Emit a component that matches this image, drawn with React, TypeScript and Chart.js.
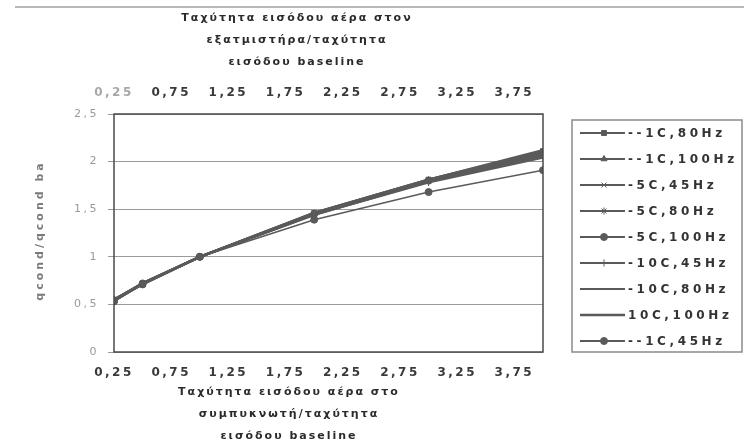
import React, { useEffect, useRef } from "react";
import { Chart, registerables } from "chart.js";
import { drawPoint } from "chart.js/helpers";

Chart.register(...registerables);

// ---- data ----
const xValues = [0.25, 0.5, 1, 2, 3, 4];
const xTickValues = [0.25, 0.75, 1.25, 1.75, 2.25, 2.75, 3.25, 3.75];

const seriesLabels = [
  "--1C,80Hz",
  "--1C,100Hz",
  "-5C,45Hz",
  "-5C,80Hz",
  "-5C,100Hz",
  "-10C,45Hz",
  "-10C,80Hz",
  "10C,100Hz",
  "--1C,45Hz",
];

const m1C80Hz = [0.55, 0.72, 1.0, 1.46, 1.81, 2.11];
const m1C100Hz = [0.54, 0.72, 1.0, 1.45, 1.8, 2.09];
const m5C45Hz = [0.55, 0.71, 1.0, 1.44, 1.79, 2.06];
const m5C80Hz = [0.55, 0.72, 1.0, 1.46, 1.81, 2.1];
const m5C100Hz = [0.54, 0.72, 1.0, 1.45, 1.8, 2.08];
const m10C45Hz = [0.55, 0.71, 1.0, 1.44, 1.78, 2.04];
const m10C80Hz = [0.55, 0.72, 1.0, 1.45, 1.8, 2.07];
const p10C100Hz = [0.54, 0.72, 1.0, 1.46, 1.81, 2.12];
const m1C45Hz = [0.53, 0.71, 1.0, 1.39, 1.68, 1.91];

const seriesValues = [
  m1C80Hz, m1C100Hz, m5C45Hz, m5C80Hz, m5C100Hz, m10C45Hz, m10C80Hz, p10C100Hz, m1C45Hz,
];
const seriesMarkers: any[] = [
  "rect", "triangle", "crossRot", "star", "circle", "cross", "line", false, "circle",
];
const seriesWidths = [2.5, 2.5, 2.5, 2.5, 2.5, 2, 2, 2.5, 1.5];

const topTitle = ["Ταχύτητα εισόδου αέρα στον", "εξατμιστήρα/ταχύτητα", "εισόδου baseline"];
const bottomTitle = ["Ταχύτητα εισόδου αέρα στο", "συμπυκνωτή/ταχύτητα", "εισόδου baseline"];
const yTitle = "qcond/qcond ba";

const FONT = "'DejaVu Sans', sans-serif";
const LINE = "#5a5a5a";

const fmt = (v: number) => String(v).replace(".", ",");

function drawLines(ctx: any, lines: string[], cx: number, y0: number, lh: number) {
  lines.forEach((t, i) => {
    ctx.fillText(t, cx + 1, y0 + i * lh);
  });
}

const spacingPlugin = {
  id: "spacing",
  beforeLayout(chart: any) {
    chart.ctx.letterSpacing = "2.5px";
  },
  beforeDraw(chart: any) {
    const ctx = chart.ctx;
    ctx.letterSpacing = "2.5px";
    ctx.save();
    ctx.fillStyle = "#ffffff";
    ctx.fillRect(0, 0, chart.width, chart.height);
    ctx.strokeStyle = "#b8b8b8";
    ctx.lineWidth = 2;
    ctx.beginPath();
    ctx.moveTo(15, 7);
    ctx.lineTo(chart.width, 7);
    ctx.stroke();
    ctx.restore();
  },
  afterDatasetsDraw(chart: any) {
    const ctx = chart.ctx;
    const a = chart.chartArea;
    ctx.save();
    ctx.strokeStyle = "#4a4a4a";
    ctx.lineWidth = 1.5;
    ctx.strokeRect(a.left, a.top, a.right - a.left, a.bottom - a.top);
    ctx.restore();
  },
  afterDraw(chart: any) {
    const ctx = chart.ctx;
    const a = chart.chartArea;

    // axis titles
    ctx.save();
    ctx.font = `bold 11px ${FONT}`;
    ctx.letterSpacing = "2px";
    ctx.fillStyle = "#2a2a2a";
    ctx.textAlign = "center";
    ctx.textBaseline = "middle";
    drawLines(ctx, topTitle, 296, 18, 22);
    drawLines(ctx, bottomTitle, 288, 392, 22);
    ctx.translate(40, 232);
    ctx.rotate(-Math.PI / 2);
    ctx.letterSpacing = "3px";
    ctx.fillStyle = "#7a7a7a";
    ctx.fillText(yTitle, 1.5, 0);
    ctx.restore();

    // legend
    const boxLeft = 572;
    const boxTop = 120;
    const boxBottom = a.bottom;
    ctx.save();
    ctx.strokeStyle = "#8a8a8a";
    ctx.lineWidth = 1.5;
    ctx.strokeRect(boxLeft, boxTop, chart.width - 2 - boxLeft, boxBottom - boxTop);
    ctx.font = `bold 12px ${FONT}`;
    ctx.letterSpacing = "3.6px";
    ctx.textBaseline = "middle";
    ctx.textAlign = "left";
    chart.data.datasets.forEach((ds: any, i: number) => {
      const y = 133 + i * 26;
      ctx.strokeStyle = ds.borderColor;
      ctx.lineWidth = ds.pointStyle ? 2 : 2.5;
      ctx.beginPath();
      ctx.moveTo(580, y);
      ctx.lineTo(625, y);
      ctx.stroke();
      if (ds.pointStyle) {
        ctx.fillStyle = ds.backgroundColor;
        ctx.strokeStyle = ds.borderColor;
        ctx.lineWidth = 1;
        drawPoint(ctx, { pointStyle: ds.pointStyle, radius: 3.5, borderWidth: 1, rotation: 0 } as any, 604, y);
      }
      ctx.fillStyle = "#333333";
      ctx.fillText(ds.label, 628, y + 1);
    });
    ctx.restore();
  },
};

export default function App() {
  const ref = useRef<HTMLCanvasElement | null>(null);

  useEffect(() => {
    if (!ref.current) return;
    const datasets = seriesLabels.map((label, i) => ({
      label,
      data: xValues.map((x, j) => ({ x, y: seriesValues[i][j] })),
      borderColor: LINE,
      backgroundColor: LINE,
      borderWidth: seriesWidths[i],
      pointStyle: seriesMarkers[i],
      pointRadius: seriesMarkers[i] ? 3.5 : 0,
      pointBorderWidth: 1,
      pointHoverRadius: 0,
      tension: 0,
      xAxisID: "x",
      yAxisID: "y",
    }));

    const xTicksBuild = (scale: any) => {
      scale.ticks = xTickValues.map((v) => ({ value: v }));
    };

    const chart = new Chart(ref.current, {
      type: "line",
      data: { datasets },
      plugins: [spacingPlugin],
      options: {
        animation: false,
        responsive: false,
        devicePixelRatio: 1,
        layout: { padding: { left: 0, right: 201, top: 0, bottom: 0 } },
        plugins: { legend: { display: false }, tooltip: { enabled: false } },
        events: [],
        scales: {
          x: {
            type: "linear",
            position: "bottom",
            min: 0.25,
            max: 4,
            afterBuildTicks: xTicksBuild,
            afterFit: (s: any) => {
              s.height = 94;
            },
            grid: { display: false, drawTicks: false },
            border: { display: false },
            ticks: {
              autoSkip: false,
              maxRotation: 0,
              padding: 14,
              color: "#3a3a3a",
              font: { family: FONT, size: 12, weight: "bold" },
              callback: (v: any) => fmt(v),
            },
            title: { display: false, text: bottomTitle },
          },
          x2: {
            type: "linear",
            position: "top",
            min: 0.25,
            max: 4,
            afterBuildTicks: xTicksBuild,
            afterFit: (s: any) => {
              s.height = 114;
            },
            grid: { display: false, drawTicks: false },
            border: { display: false },
            ticks: {
              autoSkip: false,
              maxRotation: 0,
              padding: 14,
              color: (c: any) => (c.index === 0 ? "#a8a8a8" : "#3a3a3a"),
              font: { family: FONT, size: 12, weight: "bold" },
              callback: (v: any) => fmt(v),
            },
            title: { display: false, text: topTitle },
          },
          y: {
            type: "linear",
            position: "left",
            min: 0,
            max: 2.5,
            ticks: {
              stepSize: 0.5,
              padding: 9,
              color: "#9a9a9a",
              font: { family: FONT, size: 11 },
              callback: (v: any) => fmt(v),
            },
            afterFit: (s: any) => {
              s.width = 114;
            },
            grid: {
              color: "#9a9a9a",
              lineWidth: 1,
              drawTicks: true,
              tickLength: 6,
            },
            border: { display: false },
            title: { display: false, text: yTitle },
          },
        },
      } as any,
    });
    return () => chart.destroy();
  }, []);

  return (
    <div style={{ position: "fixed", left: 0, top: 0, width: 744, height: 446, background: "#fff" }}>
      <canvas ref={ref} width={744} height={446} style={{ width: 744, height: 446 }} />
    </div>
  );
}
